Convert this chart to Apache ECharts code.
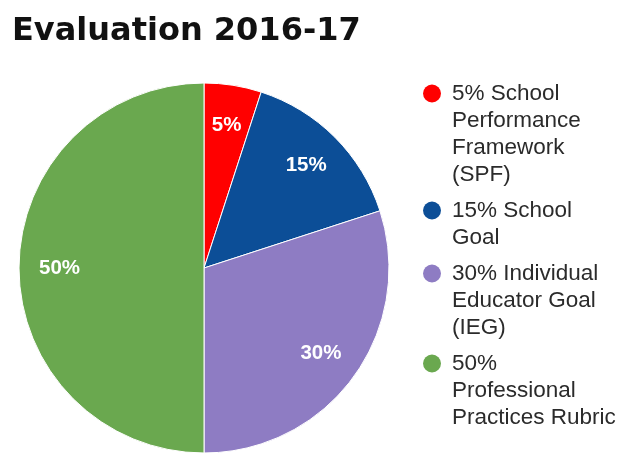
<!DOCTYPE html>
<html>
<head>
<meta charset="utf-8">
<script src="https://cdn.jsdelivr.net/npm/echarts@6/dist/echarts.min.js"></script>
<style>
html, body { margin: 0; padding: 0; background: #fff; }
#chart { width: 623px; height: 454px; }
</style>
</head>
<body>
<div id="chart"></div>
<script>
// data
var names = [
	'5% School\nPerformance\nFramework\n(SPF)',
	'15% School\nGoal',
	'30% Individual\nEducator Goal\n(IEG)',
	'50%\nProfessional\nPractices Rubric'
];
var values = [5, 15, 30, 50];
var labels = ['5%', '15%', '30%', '50%'];
var colors = ['#ff0000', '#0c4e97', '#8e7cc3', '#6aa84f'];

var myChart = echarts.init(document.getElementById('chart'));

var pieData = names.map(function (n, i) {
	return { name: n, value: values[i], itemStyle: { color: colors[i] } };
});
var labelData = names.map(function (n, i) {
	return { name: n, value: values[i], label: { formatter: labels[i] } };
});

// legend text: coloured dot on the first line, other lines indented
var legendFont = 'Liberation Sans, Arial, sans-serif';
var legendRich = {
	t: { fontFamily: legendFont, fontSize: 22.5, lineHeight: 27, color: '#2b2b2b', padding: [0, 0, 0, 11] },
	ind: { width: 18, height: 18, lineHeight: 27 }
};
colors.forEach(function (c, i) {
	legendRich['d' + i] = { width: 18, height: 18, borderRadius: 9, backgroundColor: c, lineHeight: 27 };
});

var option = {
	animation: false,
	title: {
		text: 'Evaluation 2016-17',
		left: 12,
		top: 16,
		padding: 0,
		textStyle: {
			fontFamily: 'DejaVu Sans',
			fontSize: 32,
			fontWeight: 'bold',
			color: '#111'
		}
	},
	legend: {
		orient: 'vertical',
		left: 418,
		top: 80,
		padding: 0,
		icon: 'none',
		itemWidth: 0,
		itemHeight: 18,
		itemGap: 9,
		data: names,
		formatter: function (name) {
			var i = names.indexOf(name);
			return name.split('\n').map(function (line, k) {
				return (k === 0 ? '{d' + i + '| }' : '{ind| }') + '{t|' + line + '}';
			}).join('\n');
		},
		textStyle: {
			fontFamily: legendFont,
			fontSize: 22.5,
			lineHeight: 27,
			color: '#2b2b2b',
			rich: legendRich
		}
	},
	series: [{
		name: 'Evaluation',
		type: 'pie',
		radius: 185,
		center: [204, 268],
		startAngle: 90,
		clockwise: true,
		data: pieData,
		label: { show: false },
		labelLine: { show: false },
		itemStyle: { borderColor: '#fff', borderWidth: 1 }
	}, {
		name: 'labels',
		type: 'pie',
		radius: [98, 185],
		center: [204, 268],
		startAngle: 90,
		clockwise: true,
		silent: true,
		data: labelData,
		itemStyle: { color: 'rgba(0,0,0,0)' },
		label: {
			show: true,
			position: 'inside',
			fontFamily: 'Liberation Sans, Arial, sans-serif',
			fontSize: 20.5,
			fontWeight: 'bold',
			color: '#fff'
		},
		labelLine: { show: false }
	}]
};
myChart.setOption(option);
</script>
</body>
</html>
